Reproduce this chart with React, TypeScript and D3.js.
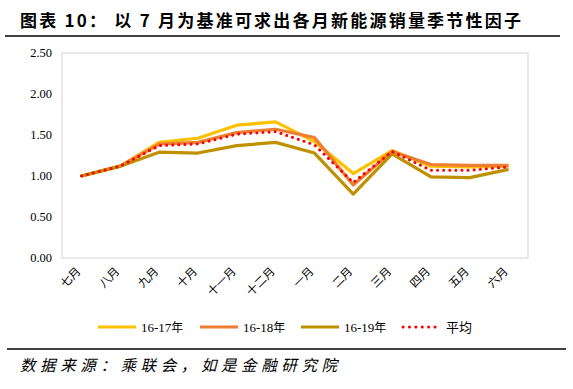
import React from "react";
import * as d3 from "d3";

const months = ["七月", "八月", "九月", "十月", "十一月", "十二月", "一月", "二月", "三月", "四月", "五月", "六月"];
const s1617 = [1.0, 1.12, 1.41, 1.46, 1.62, 1.66, 1.42, 1.03, 1.31, 1.12, 1.11, 1.12];
const s1618 = [1.0, 1.12, 1.39, 1.41, 1.53, 1.57, 1.47, 0.89, 1.3, 1.14, 1.13, 1.13];
const s1619 = [1.0, 1.12, 1.29, 1.28, 1.37, 1.41, 1.28, 0.78, 1.27, 0.99, 0.98, 1.08];
const avg = [1.0, 1.12, 1.37, 1.39, 1.51, 1.54, 1.38, 0.92, 1.3, 1.07, 1.07, 1.11];
const yTicks = [0, 0.5, 1.0, 1.5, 2.0, 2.5];

const series = [
  { name: "16-17年", values: s1617, color: "#FFC000", dotted: false },
  { name: "16-18年", values: s1618, color: "#ED7D31", dotted: false },
  { name: "16-19年", values: s1619, color: "#BF9000", dotted: false },
  { name: "平均", values: avg, color: "#FF0000", dotted: true },
];

export default function App() {
  const W = 573, H = 389;
  const left = 62, right = 528, top = 53, bottom = 258;
  const x = d3.scaleBand<string>().domain(months).range([left, right]);
  const y = d3.scaleLinear().domain([0, 2.5]).range([bottom, top]);
  const line = d3
    .line<number>()
    .x((_, i) => (x(months[i]) as number) + x.bandwidth() / 2)
    .y((d) => y(d));
  const cjk = "'Noto Sans CJK SC', sans-serif";
  const serif = "'Liberation Serif', serif";
  const legendX = [98, 200, 301, 403];
  return (
    <svg width={W} height={H} style={{ position: "absolute", left: 0, top: 0, background: "#fff" }}>
      <text
        x={20}
        y={27}
        fontFamily={cjk}
        fontWeight="bold"
        fontSize={17}
        fill="#000"
        textLength={501}
        lengthAdjust="spacing"
      >
        图表 10： 以 7 月为基准可求出各月新能源销量季节性因子
      </text>
      <line x1={5} x2={560} y1={36} y2={36} stroke="#000" strokeWidth={1.3} />
      <rect x={left} y={top} width={right - left} height={bottom - top} fill="none" stroke="#D9D9D9" strokeWidth={1.2} />
      {yTicks.map((t) => (
        <text key={t} x={52} y={y(t) + 4} textAnchor="end" fontFamily={serif} fontSize={12.5} fill="#000">
          {t.toFixed(2)}
        </text>
      ))}
      {months.map((m) => {
        const cx = (x(m) as number) + x.bandwidth() / 2;
        return (
          <text
            key={m}
            transform={`translate(${cx},${bottom + 14}) rotate(-45)`}
            textAnchor="end"
            fontFamily={cjk}
            fontSize={11.5}
            fill="#000"
          >
            {m}
          </text>
        );
      })}
      {series.map((s) => (
        <path
          key={s.name}
          d={line(s.values) || ""}
          fill="none"
          stroke={s.color}
          strokeWidth={s.dotted ? 3 : 3.2}
          strokeDasharray={s.dotted ? "0.1 6" : undefined}
          strokeLinecap={s.dotted ? "round" : "butt"}
          strokeLinejoin="round"
        />
      ))}
      {series.map((s, i) => (
        <g key={s.name}>
          <line
            x1={legendX[i]}
            x2={legendX[i] + 38}
            y1={327}
            y2={327}
            stroke={s.color}
            strokeWidth={3}
            strokeDasharray={s.dotted ? "0.1 6.3" : undefined}
            strokeLinecap={s.dotted ? "round" : "butt"}
          />
          <text x={legendX[i] + 43} y={332} fontFamily={s.dotted ? cjk : serif} fontSize={13} fill="#000">
            {s.dotted ? (
              s.name
            ) : (
              <>
                {s.name.slice(0, 5)}
                <tspan fontFamily={cjk} fontSize={12}>{s.name.slice(5)}</tspan>
              </>
            )}
          </text>
        </g>
      ))}
      <line x1={7} x2={566} y1={349} y2={349} stroke="#000" strokeWidth={1.3} />
      <text
        x={20}
        y={371}
        fontFamily={cjk}
        fontStyle="italic"
        fontSize={15.5}
        fill="#000"
        textLength={317}
        lengthAdjust="spacing"
      >
        数据来源：乘联会，如是金融研究院
      </text>
    </svg>
  );
}
